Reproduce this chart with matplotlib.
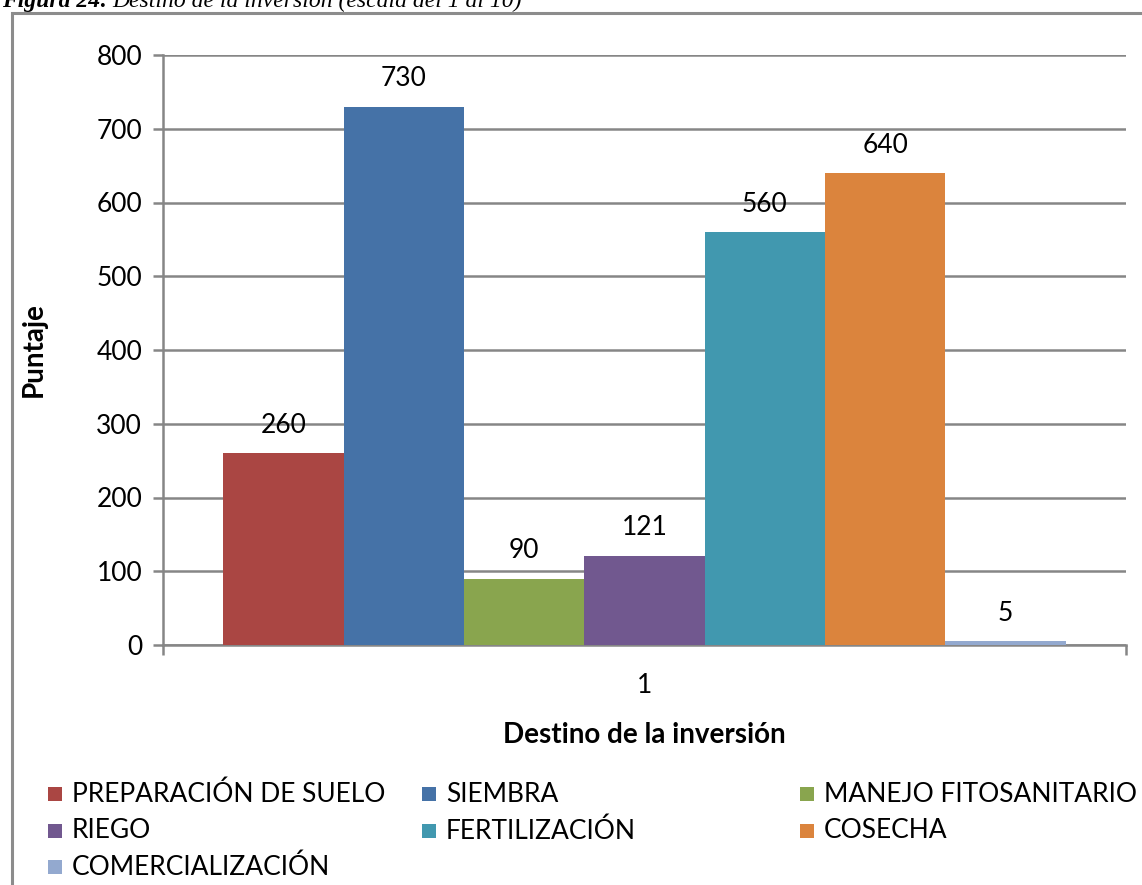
import matplotlib
matplotlib.use("Agg")
import matplotlib.pyplot as plt
from matplotlib.patches import Rectangle

# datos del grafico
categorias = ["PREPARACIÓN DE SUELO", "SIEMBRA", "MANEJO FITOSANITARIO", "RIEGO",
              "FERTILIZACIÓN", "COSECHA", "COMERCIALIZACIÓN"]
puntajes = [260, 730, 90, 121, 560, 640, 5]
colores = ["#AA4643", "#4572A7", "#89A54E", "#71588F", "#4198AF", "#DB843D", "#93A9CF"]
y_ticks = [0, 100, 200, 300, 400, 500, 600, 700, 800]

W, H = 1142, 885
plt.rcParams['font.family'] = ['Lato', 'DejaVu Sans']
gris = "#868686"
fs = 19

fig = plt.figure(figsize=(W / 100, H / 100), dpi=100)

# marco exterior del grafico
fig.add_artist(Rectangle((12 / W, -0.1), 1.2, 1 - 13 / H + 0.1, transform=fig.transFigure,
                         fill=False, edgecolor="#8c8c8c", linewidth=2.2))

# titulo cortado arriba
fig.text(2 / W, 1 - 7 / H, "Figura 24: ", fontsize=17, fontweight='bold', fontstyle='italic',
         family='Liberation Serif', va='baseline', ha='left')
fig.text(112 / W, 1 - 7 / H, "Destino de la inversión (escala del 1 al 10)", fontsize=17,
         fontstyle='italic', family='Liberation Serif', va='baseline', ha='left')

ax = fig.add_axes([163 / W, 1 - 645 / H, (1126 - 163) / W, (645 - 55) / H])
pos = list(range(len(puntajes)))
ax.bar(pos, puntajes, width=1.0, color=colores, zorder=3)
for x, v in zip(pos, puntajes):
    ax.annotate(str(v), (x, v), xytext=(0, 11), textcoords='offset points',
                ha='center', va='bottom', fontsize=fs)

ax.set_xlim(-1, 7)
ax.set_ylim(0, 800)
ax.set_yticks(y_ticks)
ax.set_yticklabels([str(t) for t in y_ticks], fontsize=fs)
ax.grid(axis='y', color=gris, linewidth=1.8, zorder=0)
ax.set_xticks([3])
ax.set_xticklabels(["1"], fontsize=fs)
ax.set_xticks([-1, 7], minor=True)
ax.tick_params(axis='x', which='major', length=0, pad=20)
ax.tick_params(axis='x', which='minor', length=7, width=1.8, color=gris, direction='out')
ax.tick_params(axis='y', length=7, width=1.8, color=gris, pad=8)
for lado in ['top', 'right']:
    ax.spines[lado].set_visible(False)
for lado in ['left', 'bottom']:
    ax.spines[lado].set_color(gris)
    ax.spines[lado].set_linewidth(1.8)

ax.set_ylabel("Puntaje", fontsize=fs + 1, fontweight='bold')
ax.yaxis.set_label_coords((47 - 163) / (1126 - 163), 0.5)
fig.text(644 / W, 1 - 735 / H, "Destino de la inversión", fontsize=fs + 1, fontweight='bold',
         ha='center', va='center')

# leyenda manual (columnas iguales como en Excel)
col_x = [48, 422, 800]
fila_y = [794, 831, 867]
for i, (cat, col) in enumerate(zip(categorias, colores)):
    cx = col_x[i % 3]
    cy = fila_y[i // 3]
    fig.add_artist(Rectangle((cx / W, 1 - (cy + 7) / H), 14 / W, 14 / H,
                             transform=fig.transFigure, facecolor=col, edgecolor='none'))
    fig.text((cx + 24) / W, 1 - cy / H, cat, fontsize=fs, ha='left', va='center')

fig.savefig("out.png", dpi=100)
